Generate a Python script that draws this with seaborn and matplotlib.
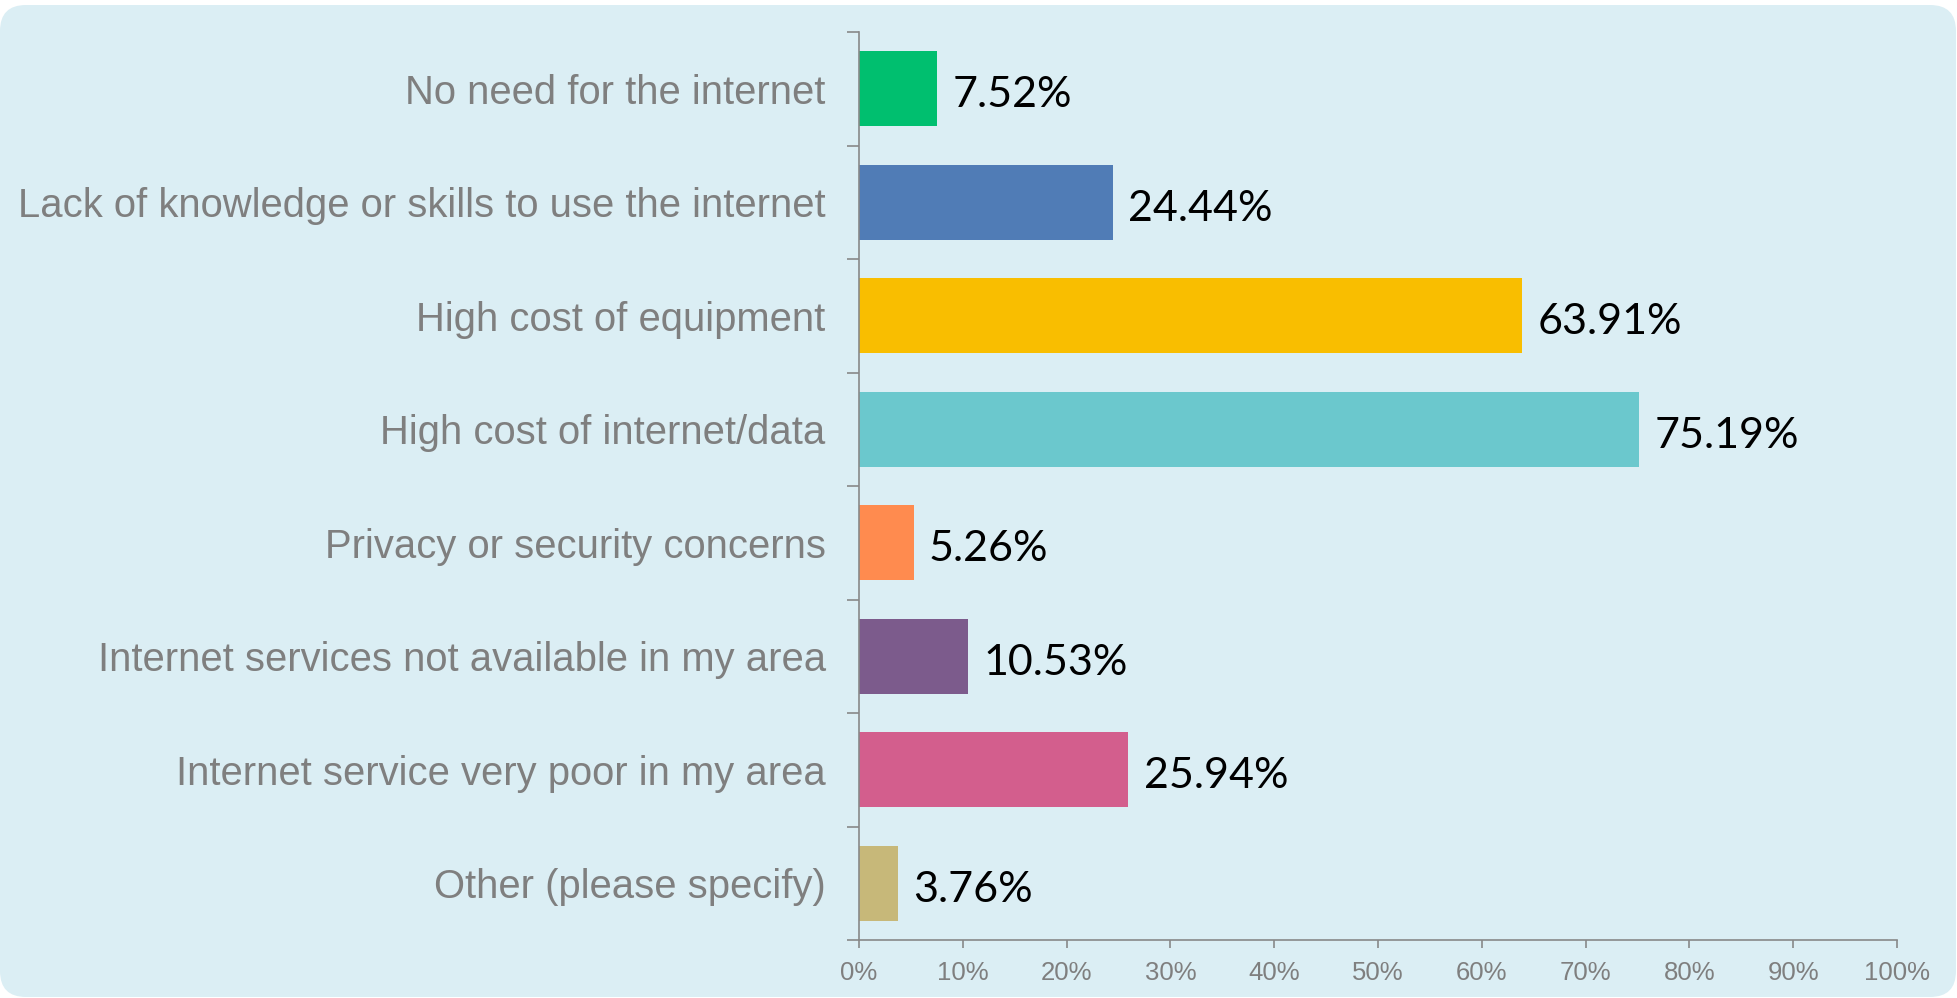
import matplotlib
matplotlib.use("Agg")
import matplotlib.pyplot as plt
from matplotlib.patches import FancyBboxPatch
from matplotlib.ticker import FixedLocator, FuncFormatter
import seaborn as sns
import pandas as pd

categories = [
    "No need for the internet",
    "Lack of knowledge or skills to use the internet",
    "High cost of equipment",
    "High cost of internet/data",
    "Privacy or security concerns",
    "Internet services not available in my area",
    "Internet service very poor in my area",
    "Other (please specify)",
]
percentages = [7.52, 24.44, 63.91, 75.19, 5.26, 10.53, 25.94, 3.76]
bar_colors = ["#00BF6F", "#507CB6", "#F9BE00", "#6BC8CD",
              "#FF8B4F", "#7C5B8C", "#D35E8D", "#C7B879"]
x_ticks = [0, 10, 20, 30, 40, 50, 60, 70, 80, 90, 100]

sns.set_theme(style="white")
plt.rcParams["font.family"] = ["Liberation Sans", "DejaVu Sans"]

W, H, DPI = 1957, 998, 100
fig = plt.figure(figsize=(W / DPI, H / DPI), dpi=DPI, facecolor="white")

# rounded light-blue panel behind the chart
panel = FancyBboxPatch((0, 1), W - 1, H - 6,
                       boxstyle="round,pad=0,rounding_size=26",
                       transform=None, facecolor="#DBEEF4", edgecolor="none",
                       zorder=-10)
fig.patches.append(panel)

ax = fig.add_axes([859 / W, 1 - 940 / H, (1897 - 859) / W, (940 - 32) / H])
ax.set_facecolor("none")
ax.set_zorder(5)

df = pd.DataFrame({"reason": categories, "pct": percentages})
sns.barplot(data=df, x="pct", y="reason", hue="reason", palette=bar_colors,
            legend=False, orient="h", width=0.66, saturation=1,
            linewidth=0, edgecolor="none", ax=ax)

ax.set_xlim(0, 100)
ax.set_ylim(len(categories) - 0.5, -0.5)
ax.set_xlabel("")
ax.set_ylabel("")

grey = "#888888"
for side in ("top", "right"):
    ax.spines[side].set_visible(False)
for side in ("left", "bottom"):
    ax.spines[side].set_color(grey)
    ax.spines[side].set_linewidth(1.2)

# category labels centred on bars, ticks on the band boundaries
ax.yaxis.set_major_locator(FixedLocator(range(len(categories))))
ax.set_yticklabels(categories)
ax.yaxis.set_minor_locator(FixedLocator([i - 0.5 for i in range(len(categories) + 1)]))
ax.tick_params(axis="y", which="major", length=0, pad=24,
               labelsize=28.8, labelcolor="#7F7F7F")
ax.tick_params(axis="y", which="minor", length=9, width=1.2, color=grey,
               direction="out", left=True)

ax.xaxis.set_major_locator(FixedLocator(x_ticks))
ax.xaxis.set_major_formatter(FuncFormatter(lambda v, _: f"{v:.0f}%"))
ax.tick_params(axis="x", which="major", length=6, width=1.2, color=grey,
               direction="out", bottom=True, pad=9, labelsize=18.5,
               labelcolor="#7F7F7F")

# value labels at the end of each bar
for i, v in enumerate(percentages):
    ax.annotate(f"{v:.2f}%", xy=(v, i), xytext=(11, -2),
                textcoords="offset points", ha="left", va="center_baseline",
                fontsize=31, color="black", family=["Lato", "DejaVu Sans"])

fig.savefig("out.png", dpi=DPI, facecolor="white")
